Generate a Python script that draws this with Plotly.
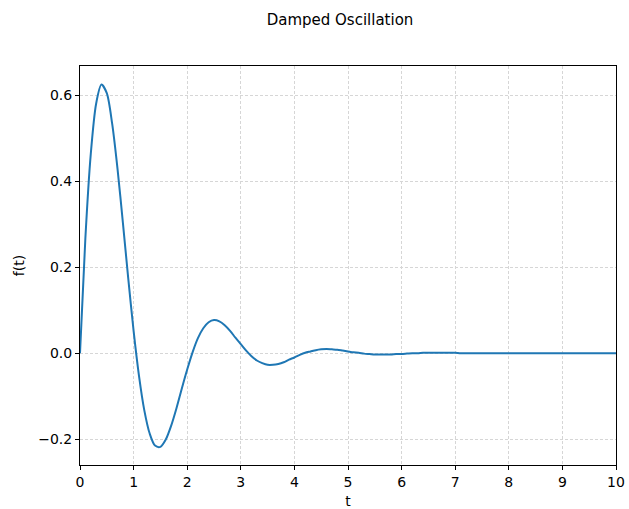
import plotly.graph_objects as go

# time samples (s) and damped oscillation values
t_values = [round(i * 0.1, 1) for i in range(101)]
f_values = [
    0.000, 0.267, 0.462, 0.580, 0.625, 0.605, 0.534, 0.429, 0.304, 0.174,
    0.052, -0.052, -0.133, -0.187, -0.215, -0.218, -0.201, -0.169, -0.128, -0.082,
    -0.038, 0.002, 0.035, 0.058, 0.072, 0.077, 0.074, 0.065, 0.052, 0.036,
    0.021, 0.006, -0.007, -0.017, -0.023, -0.027, -0.027, -0.025, -0.021, -0.015,
    -0.010, -0.004, 0.001, 0.004, 0.007, 0.009, 0.010, 0.009, 0.008, 0.006,
    0.004, 0.002, 0.001, -0.001, -0.002, -0.003, -0.003, -0.003, -0.003, -0.002,
    -0.002, -0.001, 0.000, 0.000, 0.001, 0.001, 0.001, 0.001, 0.001, 0.001,
    0.001, 0.000, 0.000, 0.000, 0.000, 0.000, 0.000, 0.000, 0.000, 0.000,
    0.000, 0.000, 0.000, 0.000, 0.000, 0.000, 0.000, 0.000, 0.000, 0.000,
    0.000, 0.000, 0.000, 0.000, 0.000, 0.000, 0.000, 0.000, 0.000, 0.000,
    0.000,
]

x_ticks = [0, 1, 2, 3, 4, 5, 6, 7, 8, 9, 10]
x_tick_labels = [str(v) for v in x_ticks]
y_ticks = [-0.2, 0.0, 0.2, 0.4, 0.6]
y_tick_labels = ["\u22120.2", "0.0", "0.2", "0.4", "0.6"]

FONT = "DejaVu Sans"

fig = go.Figure()
fig.add_trace(go.Scatter(
    x=t_values, y=f_values, mode="lines",
    line=dict(color="#1f77b4", width=2, shape="spline", smoothing=0.8),
    showlegend=False,
))

axis_common = dict(
    showline=True, linecolor="black", linewidth=1, mirror=True,
    ticks="outside", ticklen=4, tickwidth=1, tickcolor="black",
    showgrid=True, gridcolor="#d6d6d6", griddash="3px,2px", gridwidth=1,
    zeroline=False, automargin=False,
    tickfont=dict(family=FONT, size=14, color="black"),
)

fig.update_layout(
    width=629, height=509,
    margin=dict(l=80, r=13, t=66, b=44),
    paper_bgcolor="white", plot_bgcolor="white",
    font=dict(family=FONT, color="black"),
    title=dict(text="Damped Oscillation", x=340 / 629, xanchor="center",
               y=1 - 20 / 509, yanchor="middle",
               font=dict(family=FONT, size=15, color="black")),
    xaxis=dict(range=[0, 10], tickvals=x_ticks, ticktext=x_tick_labels,
               title=dict(text="t", font=dict(family=FONT, size=14), standoff=9),
               **axis_common),
    yaxis=dict(range=[-0.2602, 0.6683], tickvals=y_ticks, ticktext=y_tick_labels,
               title=dict(text="f(t)", font=dict(family=FONT, size=14), standoff=10),
               **axis_common),
)

fig.write_html("out.html")
